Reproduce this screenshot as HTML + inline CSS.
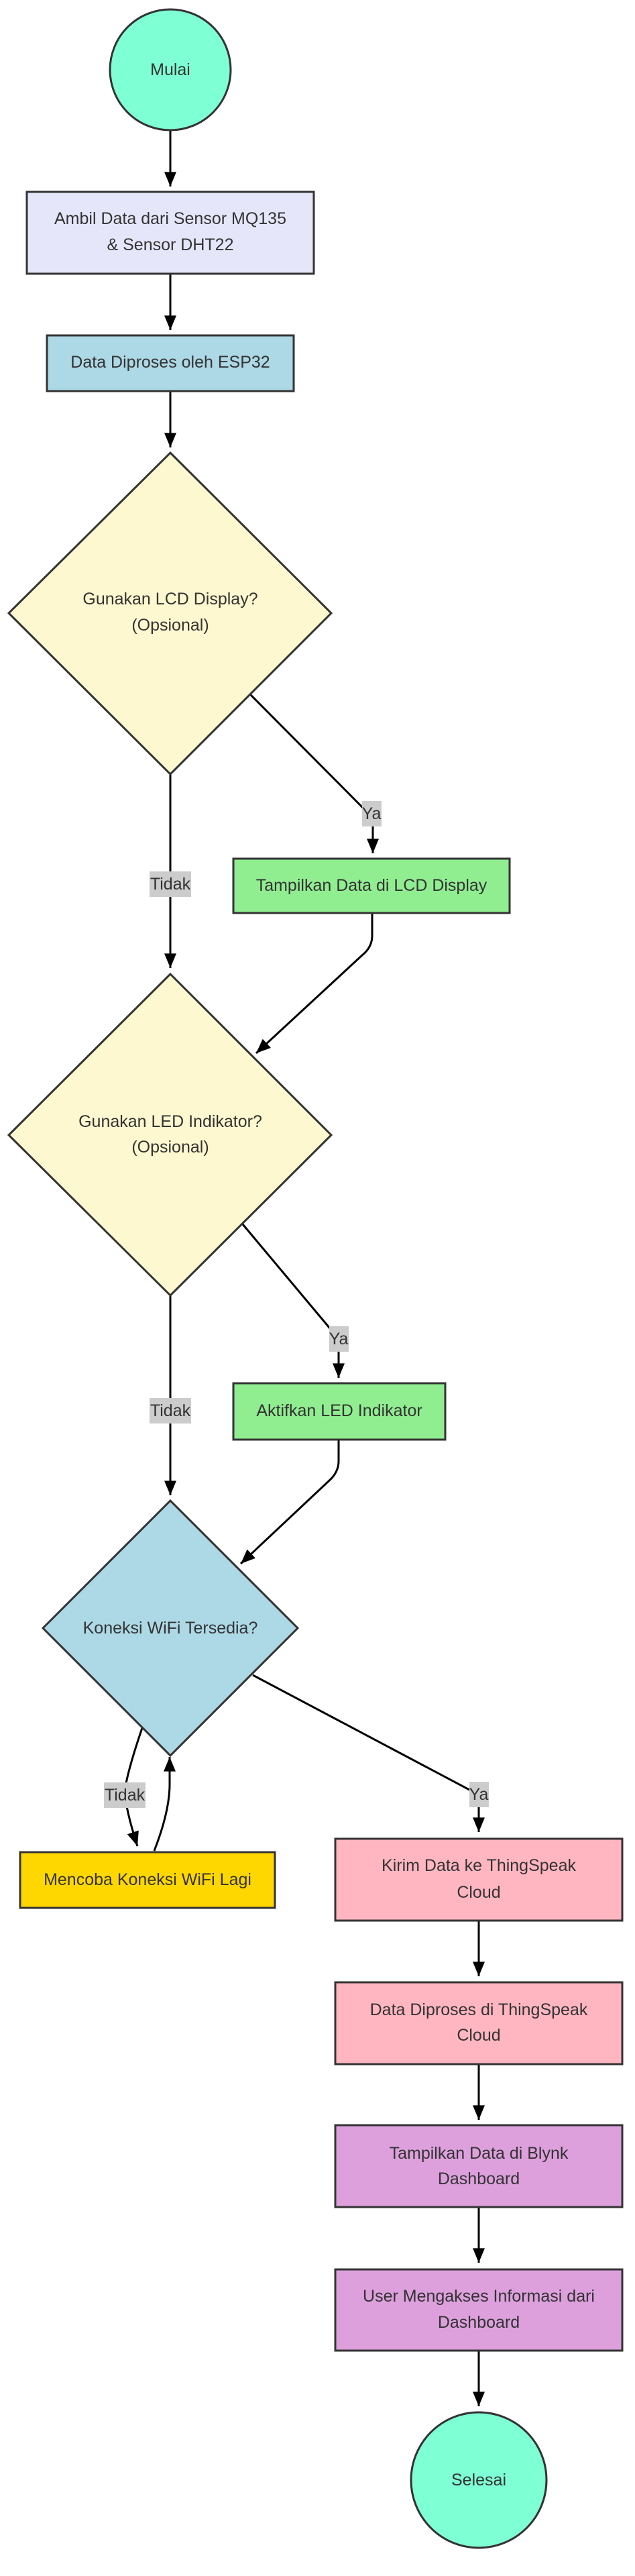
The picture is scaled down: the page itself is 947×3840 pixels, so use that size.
<!DOCTYPE html>
<html><head><meta charset="utf-8"><style>
html,body{margin:0;padding:0;background:#fff;}
svg{display:block;}
text{font-family:"Liberation Sans",Arial,sans-serif;font-size:25px;fill:#333;text-anchor:middle;dominant-baseline:central;}
.n{stroke:#333;stroke-width:3;}
.e{stroke:#000;stroke-width:3;fill:none;}
.lb{fill:#ccc;}
</style></head><body>
<svg width="947" height="3840" viewBox="0 0 947 3840" xmlns="http://www.w3.org/2000/svg">
<defs>
<marker id="a" viewBox="0 0 12 10" refX="12" refY="5" markerWidth="7.5" markerHeight="6" markerUnits="strokeWidth" orient="auto">
<path d="M0,0 L12,5 L0,10 z" fill="#000"/>
</marker>
</defs>

<!-- edges -->
<path class="e" d="M254,194 L254,278" marker-end="url(#a)"/>
<path class="e" d="M254,408 L254,492" marker-end="url(#a)"/>
<path class="e" d="M254,583 L254,667" marker-end="url(#a)"/>
<path class="e" d="M373,1035 L541,1204 L556,1218 L556,1272" marker-end="url(#a)"/>
<path class="e" d="M254,1154 L254,1443" marker-end="url(#a)"/>
<path class="e" d="M555,1361 L555,1395 Q555,1412 540,1424 L382,1570" marker-end="url(#a)"/>
<path class="e" d="M362,1825 L491,1979 L505,1996 L505,2054" marker-end="url(#a)"/>
<path class="e" d="M254,1931 L254,2229" marker-end="url(#a)"/>
<path class="e" d="M505,2146 L505,2178 Q505,2195 490,2208 L359,2331" marker-end="url(#a)"/>
<path class="e" d="M377,2497 L700,2668 L714,2675 L714,2731" marker-end="url(#a)"/>
<path class="e" d="M213,2573 Q190,2640 186,2670 Q188,2700 205,2752" marker-end="url(#a)"/>
<path class="e" d="M230,2759 Q253,2700 253,2660 L253,2619" marker-end="url(#a)"/>
<path class="e" d="M714,2863 L714,2946" marker-end="url(#a)"/>
<path class="e" d="M714,3077 L714,3160" marker-end="url(#a)"/>
<path class="e" d="M714,3290 L714,3373" marker-end="url(#a)"/>
<path class="e" d="M714,3504 L714,3587" marker-end="url(#a)"/>

<!-- nodes -->
<circle class="n" cx="254" cy="104" r="90" fill="#7FFFD4"/>
<text x="254" y="104">Mulai</text>

<rect class="n" x="40" y="286" width="428" height="122" fill="#E6E6FA"/>
<text x="254" y="326">Ambil Data dari Sensor MQ135</text>
<text x="254" y="365">&amp; Sensor DHT22</text>

<rect class="n" x="70" y="500" width="368" height="83" fill="#ADD8E6"/>
<text x="254" y="540">Data Diproses oleh ESP32</text>

<polygon class="n" points="254,675 494,914 254,1154 13,914" fill="#FDF8CF"/>
<text x="254" y="893">Gunakan LCD Display?</text>
<text x="254" y="932">(Opsional)</text>

<rect class="n" x="348" y="1280" width="412" height="81" fill="#90EE90"/>
<text x="554" y="1320">Tampilkan Data di LCD Display</text>

<polygon class="n" points="254,1452 494,1692 254,1931 13,1692" fill="#FDF8CF"/>
<text x="254" y="1672">Gunakan LED Indikator?</text>
<text x="254" y="1710">(Opsional)</text>

<rect class="n" x="348" y="2062" width="316" height="84" fill="#90EE90"/>
<text x="506" y="2103">Aktifkan LED Indikator</text>

<polygon class="n" points="254,2237 444,2427 254,2617 64,2427" fill="#ADD8E6"/>
<text x="254" y="2427">Koneksi WiFi Tersedia?</text>

<rect class="n" x="30" y="2761" width="380" height="83" fill="#FFD700"/>
<text x="220" y="2802">Mencoba Koneksi WiFi Lagi</text>

<rect class="n" x="500" y="2741" width="428" height="122" fill="#FFB6C1"/>
<text x="714" y="2781">Kirim Data ke ThingSpeak</text>
<text x="714" y="2821">Cloud</text>

<rect class="n" x="500" y="2955" width="428" height="122" fill="#FFB6C1"/>
<text x="714" y="2996">Data Diproses di ThingSpeak</text>
<text x="714" y="3034">Cloud</text>

<rect class="n" x="500" y="3168" width="428" height="122" fill="#DDA0DD"/>
<text x="714" y="3210">Tampilkan Data di Blynk</text>
<text x="714" y="3248">Dashboard</text>

<rect class="n" x="500" y="3383" width="428" height="121" fill="#DDA0DD"/>
<text x="714" y="3423">User Mengakses Informasi dari</text>
<text x="714" y="3462">Dashboard</text>

<circle class="n" cx="714" cy="3697" r="101" fill="#7FFFD4"/>
<text x="714" y="3697">Selesai</text>

<!-- edge labels -->
<rect class="lb" x="540" y="1194" width="29" height="38"/>
<text x="554" y="1213">Ya</text>
<rect class="lb" x="223" y="1299" width="62" height="38"/>
<text x="254" y="1318">Tidak</text>
<rect class="lb" x="491" y="1977" width="29" height="38"/>
<text x="505" y="1996">Ya</text>
<rect class="lb" x="223" y="2084" width="62" height="38"/>
<text x="254" y="2103">Tidak</text>
<rect class="lb" x="700" y="2656" width="29" height="38"/>
<text x="714" y="2675">Ya</text>
<rect class="lb" x="155" y="2657" width="62" height="38"/>
<text x="186" y="2676">Tidak</text>
</svg>
</body></html>
